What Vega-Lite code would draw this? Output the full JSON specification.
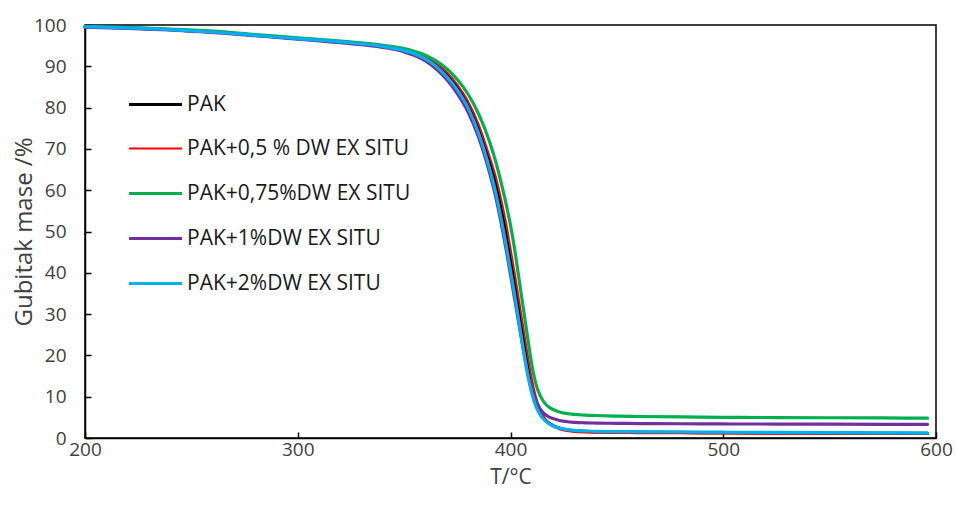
{
  "$schema": "https://vega.github.io/schema/vega-lite/v6.json",
  "width": 851,
  "height": 413,
  "autosize": {"type": "none"},
  "padding": {"left": 85, "top": 25, "right": 20, "bottom": 74},
  "background": "white",
  "config": {
    "font": "Open Sans",
    "view": {"stroke": "#000000", "strokeWidth": 1.5}
  },
  "data": {
    "values": [
      {"T": 200, "PAK": 99.6, "PAK+0,5 % DW EX SITU": 99.6, "PAK+0,75%DW EX SITU": 99.6, "PAK+1%DW EX SITU": 99.5, "PAK+2%DW EX SITU": 99.6},
      {"T": 220, "PAK": 99.3, "PAK+0,5 % DW EX SITU": 99.4, "PAK+0,75%DW EX SITU": 99.4, "PAK+1%DW EX SITU": 99.2, "PAK+2%DW EX SITU": 99.3},
      {"T": 240, "PAK": 98.9, "PAK+0,5 % DW EX SITU": 99.0, "PAK+0,75%DW EX SITU": 99.0, "PAK+1%DW EX SITU": 98.8, "PAK+2%DW EX SITU": 98.9},
      {"T": 260, "PAK": 98.3, "PAK+0,5 % DW EX SITU": 98.4, "PAK+0,75%DW EX SITU": 98.5, "PAK+1%DW EX SITU": 98.2, "PAK+2%DW EX SITU": 98.3},
      {"T": 280, "PAK": 97.5, "PAK+0,5 % DW EX SITU": 97.6, "PAK+0,75%DW EX SITU": 97.7, "PAK+1%DW EX SITU": 97.4, "PAK+2%DW EX SITU": 97.5},
      {"T": 300, "PAK": 96.7, "PAK+0,5 % DW EX SITU": 96.8, "PAK+0,75%DW EX SITU": 96.9, "PAK+1%DW EX SITU": 96.6, "PAK+2%DW EX SITU": 96.7},
      {"T": 320, "PAK": 95.9, "PAK+0,5 % DW EX SITU": 96.0, "PAK+0,75%DW EX SITU": 96.1, "PAK+1%DW EX SITU": 95.7, "PAK+2%DW EX SITU": 95.9},
      {"T": 340, "PAK": 94.9, "PAK+0,5 % DW EX SITU": 95.0, "PAK+0,75%DW EX SITU": 95.1, "PAK+1%DW EX SITU": 94.6, "PAK+2%DW EX SITU": 94.8},
      {"T": 350, "PAK": 93.9, "PAK+0,5 % DW EX SITU": 94.1, "PAK+0,75%DW EX SITU": 94.3, "PAK+1%DW EX SITU": 93.5, "PAK+2%DW EX SITU": 93.8},
      {"T": 355, "PAK": 93.1, "PAK+0,5 % DW EX SITU": 93.4, "PAK+0,75%DW EX SITU": 93.6, "PAK+1%DW EX SITU": 92.6, "PAK+2%DW EX SITU": 93.0},
      {"T": 360, "PAK": 92.1, "PAK+0,5 % DW EX SITU": 92.4, "PAK+0,75%DW EX SITU": 92.7, "PAK+1%DW EX SITU": 91.3, "PAK+2%DW EX SITU": 91.8},
      {"T": 365, "PAK": 90.4, "PAK+0,5 % DW EX SITU": 90.8, "PAK+0,75%DW EX SITU": 91.3, "PAK+1%DW EX SITU": 89.4, "PAK+2%DW EX SITU": 90.0},
      {"T": 370, "PAK": 88.0, "PAK+0,5 % DW EX SITU": 88.6, "PAK+0,75%DW EX SITU": 89.4, "PAK+1%DW EX SITU": 86.8, "PAK+2%DW EX SITU": 87.5},
      {"T": 375, "PAK": 85.0, "PAK+0,5 % DW EX SITU": 85.6, "PAK+0,75%DW EX SITU": 86.8, "PAK+1%DW EX SITU": 83.4, "PAK+2%DW EX SITU": 84.3},
      {"T": 380, "PAK": 80.8, "PAK+0,5 % DW EX SITU": 81.6, "PAK+0,75%DW EX SITU": 83.3, "PAK+1%DW EX SITU": 79.0, "PAK+2%DW EX SITU": 80.0},
      {"T": 385, "PAK": 74.8, "PAK+0,5 % DW EX SITU": 76.0, "PAK+0,75%DW EX SITU": 78.5, "PAK+1%DW EX SITU": 72.8, "PAK+2%DW EX SITU": 73.8},
      {"T": 390, "PAK": 67.0, "PAK+0,5 % DW EX SITU": 68.5, "PAK+0,75%DW EX SITU": 72.0, "PAK+1%DW EX SITU": 64.5, "PAK+2%DW EX SITU": 65.5},
      {"T": 393, "PAK": 61.5, "PAK+0,5 % DW EX SITU": 63.5, "PAK+0,75%DW EX SITU": 67.0, "PAK+1%DW EX SITU": 58.5, "PAK+2%DW EX SITU": 59.5},
      {"T": 396, "PAK": 54.5, "PAK+0,5 % DW EX SITU": 57.0, "PAK+0,75%DW EX SITU": 61.0, "PAK+1%DW EX SITU": 51.0, "PAK+2%DW EX SITU": 52.0},
      {"T": 398, "PAK": 49.0, "PAK+0,5 % DW EX SITU": 52.0, "PAK+0,75%DW EX SITU": 56.5, "PAK+1%DW EX SITU": 45.5, "PAK+2%DW EX SITU": 46.5},
      {"T": 400, "PAK": 43.0, "PAK+0,5 % DW EX SITU": 46.0, "PAK+0,75%DW EX SITU": 51.5, "PAK+1%DW EX SITU": 39.5, "PAK+2%DW EX SITU": 40.5},
      {"T": 402, "PAK": 37.0, "PAK+0,5 % DW EX SITU": 40.0, "PAK+0,75%DW EX SITU": 45.5, "PAK+1%DW EX SITU": 33.5, "PAK+2%DW EX SITU": 34.5},
      {"T": 404, "PAK": 30.5, "PAK+0,5 % DW EX SITU": 33.5, "PAK+0,75%DW EX SITU": 38.5, "PAK+1%DW EX SITU": 27.5, "PAK+2%DW EX SITU": 28.0},
      {"T": 406, "PAK": 24.0, "PAK+0,5 % DW EX SITU": 27.0, "PAK+0,75%DW EX SITU": 31.5, "PAK+1%DW EX SITU": 21.5, "PAK+2%DW EX SITU": 21.5},
      {"T": 408, "PAK": 17.5, "PAK+0,5 % DW EX SITU": 20.5, "PAK+0,75%DW EX SITU": 24.5, "PAK+1%DW EX SITU": 16.0, "PAK+2%DW EX SITU": 15.5},
      {"T": 410, "PAK": 12.0, "PAK+0,5 % DW EX SITU": 14.5, "PAK+0,75%DW EX SITU": 17.8, "PAK+1%DW EX SITU": 11.8, "PAK+2%DW EX SITU": 10.8},
      {"T": 412, "PAK": 8.4, "PAK+0,5 % DW EX SITU": 10.0, "PAK+0,75%DW EX SITU": 13.0, "PAK+1%DW EX SITU": 8.9, "PAK+2%DW EX SITU": 7.6},
      {"T": 414, "PAK": 6.0, "PAK+0,5 % DW EX SITU": 6.9, "PAK+0,75%DW EX SITU": 10.2, "PAK+1%DW EX SITU": 7.0, "PAK+2%DW EX SITU": 5.6},
      {"T": 416, "PAK": 4.5, "PAK+0,5 % DW EX SITU": 4.9, "PAK+0,75%DW EX SITU": 8.5, "PAK+1%DW EX SITU": 5.8, "PAK+2%DW EX SITU": 4.3},
      {"T": 418, "PAK": 3.6, "PAK+0,5 % DW EX SITU": 3.7, "PAK+0,75%DW EX SITU": 7.5, "PAK+1%DW EX SITU": 5.1, "PAK+2%DW EX SITU": 3.5},
      {"T": 420, "PAK": 3.0, "PAK+0,5 % DW EX SITU": 2.9, "PAK+0,75%DW EX SITU": 6.9, "PAK+1%DW EX SITU": 4.7, "PAK+2%DW EX SITU": 2.9},
      {"T": 423, "PAK": 2.4, "PAK+0,5 % DW EX SITU": 2.1, "PAK+0,75%DW EX SITU": 6.3, "PAK+1%DW EX SITU": 4.25, "PAK+2%DW EX SITU": 2.4},
      {"T": 426, "PAK": 2.0, "PAK+0,5 % DW EX SITU": 1.7, "PAK+0,75%DW EX SITU": 5.95, "PAK+1%DW EX SITU": 4.0, "PAK+2%DW EX SITU": 2.1},
      {"T": 430, "PAK": 1.75, "PAK+0,5 % DW EX SITU": 1.45, "PAK+0,75%DW EX SITU": 5.7, "PAK+1%DW EX SITU": 3.8, "PAK+2%DW EX SITU": 1.85},
      {"T": 435, "PAK": 1.6, "PAK+0,5 % DW EX SITU": 1.3, "PAK+0,75%DW EX SITU": 5.55, "PAK+1%DW EX SITU": 3.68, "PAK+2%DW EX SITU": 1.7},
      {"T": 440, "PAK": 1.5, "PAK+0,5 % DW EX SITU": 1.25, "PAK+0,75%DW EX SITU": 5.45, "PAK+1%DW EX SITU": 3.62, "PAK+2%DW EX SITU": 1.6},
      {"T": 450, "PAK": 1.45, "PAK+0,5 % DW EX SITU": 1.2, "PAK+0,75%DW EX SITU": 5.3, "PAK+1%DW EX SITU": 3.55, "PAK+2%DW EX SITU": 1.55},
      {"T": 460, "PAK": 1.4, "PAK+0,5 % DW EX SITU": 1.15, "PAK+0,75%DW EX SITU": 5.2, "PAK+1%DW EX SITU": 3.5, "PAK+2%DW EX SITU": 1.5},
      {"T": 480, "PAK": 1.35, "PAK+0,5 % DW EX SITU": 1.1, "PAK+0,75%DW EX SITU": 5.1, "PAK+1%DW EX SITU": 3.45, "PAK+2%DW EX SITU": 1.45},
      {"T": 500, "PAK": 1.3, "PAK+0,5 % DW EX SITU": 1.05, "PAK+0,75%DW EX SITU": 5.0, "PAK+1%DW EX SITU": 3.4, "PAK+2%DW EX SITU": 1.4},
      {"T": 525, "PAK": 1.25, "PAK+0,5 % DW EX SITU": 1.0, "PAK+0,75%DW EX SITU": 4.95, "PAK+1%DW EX SITU": 3.38, "PAK+2%DW EX SITU": 1.35},
      {"T": 550, "PAK": 1.2, "PAK+0,5 % DW EX SITU": 1.0, "PAK+0,75%DW EX SITU": 4.9, "PAK+1%DW EX SITU": 3.35, "PAK+2%DW EX SITU": 1.3},
      {"T": 575, "PAK": 1.15, "PAK+0,5 % DW EX SITU": 1.0, "PAK+0,75%DW EX SITU": 4.85, "PAK+1%DW EX SITU": 3.32, "PAK+2%DW EX SITU": 1.25},
      {"T": 596, "PAK": 1.1, "PAK+0,5 % DW EX SITU": 1.0, "PAK+0,75%DW EX SITU": 4.8, "PAK+1%DW EX SITU": 3.3, "PAK+2%DW EX SITU": 1.2}
    ]
  },
  "transform": [
    {"fold": ["PAK", "PAK+0,5 % DW EX SITU", "PAK+0,75%DW EX SITU", "PAK+1%DW EX SITU", "PAK+2%DW EX SITU"], "as": ["series", "mass"]}
  ],
  "mark": {"type": "line", "interpolate": "monotone", "strokeCap": "round"},
  "encoding": {
    "x": {
      "field": "T", "type": "quantitative",
      "scale": {"domain": [200, 600], "nice": false},
      "axis": {
        "title": "T/°C", "values": [200, 300, 400, 500, 600], "grid": false, "labelFlush": false,
        "domainColor": "#000000", "domainWidth": 1.5, "tickColor": "#000000", "tickWidth": 1.5, "tickSize": -6,
        "labelFont": "Open Sans", "labelFontSize": 19, "labelColor": "#404040", "labelPadding": 8,
        "titleFont": "Open Sans", "titleFontSize": 21, "titleFontWeight": "normal", "titleColor": "#404040", "titlePadding": 7
      }
    },
    "y": {
      "field": "mass", "type": "quantitative",
      "scale": {"domain": [0, 100], "nice": false},
      "axis": {
        "title": "Gubitak mase /%", "values": [0, 10, 20, 30, 40, 50, 60, 70, 80, 90, 100], "grid": false, "labelFlush": false,
        "domainColor": "#000000", "domainWidth": 1.5, "tickColor": "#000000", "tickWidth": 1.5, "tickSize": -6,
        "labelFont": "Open Sans", "labelFontSize": 19, "labelColor": "#404040", "labelPadding": 25,
        "titleFont": "Open Sans", "titleFontSize": 24, "titleFontWeight": "normal", "titleColor": "#404040", "titlePadding": -3
      }
    },
    "color": {
      "field": "series", "type": "nominal",
      "scale": {
        "domain": ["PAK", "PAK+0,5 % DW EX SITU", "PAK+0,75%DW EX SITU", "PAK+1%DW EX SITU", "PAK+2%DW EX SITU"],
        "range": ["#000000", "#FF0000", "#00B050", "#7030A0", "#00B0F0"]
      },
      "legend": {
        "title": null, "orient": "none", "legendX": 42, "legendY": 51, "padding": 0,
        "symbolType": "stroke", "symbolSize": 2809,
        "labelFont": "Open Sans", "labelFontSize": 21, "labelColor": "#1a1a1a", "labelOffset": 3, "labelLimit": 400, "rowPadding": 6
      }
    },
    "strokeWidth": {
      "field": "series", "type": "nominal",
      "scale": {
        "type": "ordinal",
        "domain": ["PAK", "PAK+0,5 % DW EX SITU", "PAK+0,75%DW EX SITU", "PAK+1%DW EX SITU", "PAK+2%DW EX SITU"],
        "range": [3.2, 1.8, 3.2, 3.2, 3.2]
      },
      "legend": {
        "title": null, "orient": "none", "legendX": 42, "legendY": 51, "padding": 0,
        "symbolType": "stroke", "symbolSize": 2809,
        "labelFont": "Open Sans", "labelFontSize": 21, "labelColor": "#1a1a1a", "labelOffset": 3, "labelLimit": 400, "rowPadding": 6
      }
    }
  }
}
